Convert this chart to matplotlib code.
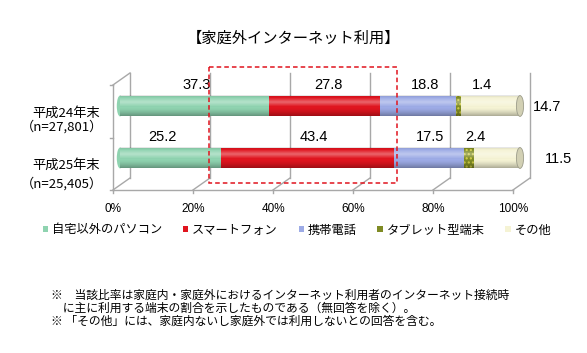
import numpy as np
import matplotlib
matplotlib.use("Agg")
import matplotlib.pyplot as plt
from matplotlib.patches import Ellipse, Rectangle, Patch
from matplotlib import font_manager as fm

plt.rcParams['font.family'] = ['Noto Sans CJK JP', 'DejaVu Sans']

# データ
title = "【家庭外インターネット利用】"
years = ["平成24年末", "平成25年末"]
samples = ["（n=27,801）", "（n=25,405）"]
devices = ["自宅以外のパソコン", "スマートフォン", "携帯電話", "タブレット型端末", "その他"]
pc = [37.3, 25.2]
smartphone = [27.8, 43.4]
mobile = [18.8, 17.5]
tablet = [1.4, 2.4]
other = [14.7, 11.5]
ticks = [0, 20, 40, 60, 80, 100]
notes = [
    "※　当該比率は家庭内・家庭外におけるインターネット利用者のインターネット接続時",
    "　に主に利用する端末の割合を示したものである（無回答を除く）。",
    "※ 「その他」には、家庭内ないし家庭外では利用しないとの回答を含む。",
]

colors = ["#8FD3B0", "#E0141E", "#9DABE6", "#7F8B24", "#F5F3D4"]

names = {f.name for f in fm.fontManager.ttflist}
if 'Liberation Sans Narrow' in names:
    num_font, num_size, tick_size = 'Liberation Sans Narrow', 11.5, 9.5
else:
    num_font, num_size, tick_size = 'Liberation Sans', 10.5, 8.5

fig = plt.figure(figsize=(5.87, 3.53), dpi=100)
ax = fig.add_axes([0, 0, 1, 1])
ax.axis('off')

series = [pc, smartphone, mobile, tablet, other]
bar_h = 0.40
front_dx, back_dx = -1.75, 2.5     # 奥行き(疑似3D)
front_y, back_y = 1.615, 1.385
wall_top_back, wall_top_front = -0.635, -0.404
grid_c = "#A8A8A8"

# 奥の壁と床
for t in ticks:
    ax.plot([t + back_dx, t + back_dx], [wall_top_back, back_y], color=grid_c, lw=1, zorder=1)
    ax.plot([t + front_dx, t + back_dx], [front_y, back_y], color=grid_c, lw=1, zorder=1)
    ax.plot([t + front_dx, t + front_dx], [front_y, front_y + 0.06], color=grid_c, lw=1, zorder=1)
    ax.text(t + front_dx, 1.98, f"{t}%", ha='center', va='center',
            family=num_font, fontsize=tick_size)
ax.plot([front_dx, 100 + front_dx], [front_y, front_y], color=grid_c, lw=1, zorder=1)
ax.plot([front_dx, front_dx], [wall_top_front, front_y], color=grid_c, lw=1, zorder=1)
ax.plot([front_dx, back_dx], [wall_top_front, wall_top_back], color=grid_c, lw=1, zorder=1)
for c in [wall_top_front, 0.615, front_y]:
    ax.plot([front_dx - 0.8, front_dx], [c, c], color=grid_c, lw=1, zorder=1)

# 円柱の陰影
n = 64
prof = np.linspace(0, 1, n)
shade = np.zeros((n, 1, 4))
white = np.clip(0.35 - np.abs(prof - 0.33) * 1.6, 0, None)
dark = np.clip((prof - 0.6) / 0.4, 0, 1) ** 1.5 * 0.3 + np.clip(0.12 - prof, 0, None)
shade[:, 0, :3] = (white / (white + dark + 1e-9))[:, None]
shade[:, 0, 3] = white + dark

label_nudge = [[0.6, 1.0, 1.8, 5.9], [-2.0, 1.5, 0.2, 1.5]]
other_x = [106.75, 109.5]

for i in range(len(years)):
    vals = [s[i] for s in series]
    left = 0
    ax.add_patch(Ellipse((0, i), 1.6, bar_h, facecolor=colors[0], edgecolor='none', zorder=3))
    for j, v in enumerate(vals):
        kw = {}
        if j == 3:
            kw = dict(hatch='....', edgecolor='#D6D24A', linewidth=0)
        ax.barh(i, v, left=left, height=bar_h, color=colors[j], zorder=3, **kw)
        if j < 4:
            ax.text(left + v / 2 + label_nudge[i][j], i - 0.40, f"{v}", ha='center', va='center',
                    family=num_font, fontsize=num_size)
        left += v
    ax.imshow(shade, extent=(0, 100, i + bar_h / 2, i - bar_h / 2), origin='upper',
              aspect='auto', zorder=4, interpolation='bilinear')
    ax.add_patch(Ellipse((100, i), 1.8, bar_h, facecolor='#D2D0B4', edgecolor='#9C9C8A',
                         lw=0.6, zorder=5))
    ax.text(other_x[i], i + 0.02, f"{vals[4]}", ha='center', va='center',
            family=num_font, fontsize=num_size)

# 行ラベル
line1_y = [0.14, 1.15]
line2_y = [0.41, 1.50]
for i in range(len(years)):
    ax.text(-5, line1_y[i], years[i], ha='right', va='center', fontsize=9.5)
    ax.text(-4.2, line2_y[i], samples[i], ha='right', va='center', fontsize=9.5)

# スマートフォンの強調枠
ax.add_patch(Rectangle((22.25, -0.75), 47.0, 2.23, fill=False, edgecolor='#E0141E',
                       lw=1.1, ls=(0, (3, 2)), zorder=6))

ax.set_xlim(-30, 116.75)
ax.set_ylim(4.75, -2.038)

fig.text(0.5, 1 - 38 / 353, title, ha='center', va='center', fontsize=11)

handles = [Patch(facecolor=colors[j], edgecolor='none') for j in range(5)]
fig.legend(handles, devices, loc='center', bbox_to_anchor=(297 / 587, 1 - 230 / 353), ncol=5,
           frameon=False, fontsize=8.8, handlelength=0.45, handleheight=0.45,
           handletextpad=0.3, columnspacing=1.7)

for k, line in enumerate(notes):
    fig.text(51 / 587, 1 - (295 + 13 * k) / 353, line, ha='left', va='center', fontsize=8.5)

fig.savefig("out.png", dpi=100)
